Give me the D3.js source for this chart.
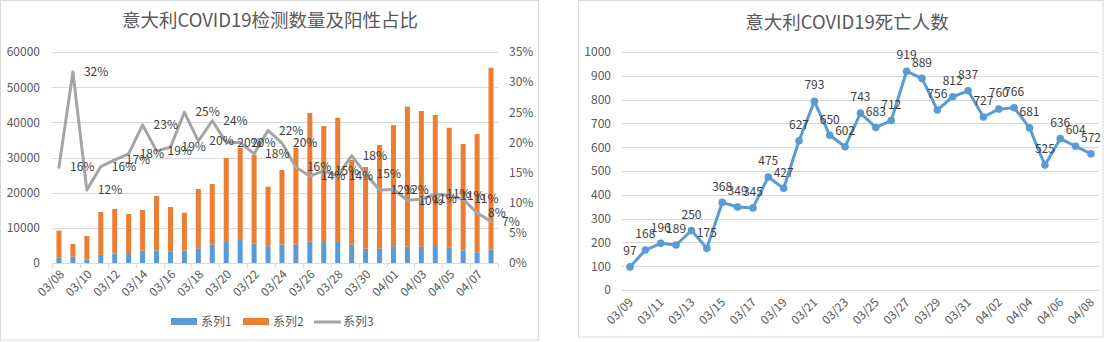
<!DOCTYPE html>
<html><head><meta charset="utf-8">
<script src="https://cdn.jsdelivr.net/npm/d3@7"></script>
<style>
body{margin:0;background:#fff;}
svg{display:block;}
text{font-family:"Noto Sans CJK SC","Noto Sans",sans-serif;}
</style>
</head><body>
<svg id="c" width="1115" height="342"></svg>
<script>
// ---------- data: left chart ----------
const testDates = ['03/08','03/09','03/10','03/11','03/12','03/13','03/14','03/15','03/16','03/17','03/18','03/19','03/20','03/21','03/22','03/23','03/24','03/25','03/26','03/27','03/28','03/29','03/30','03/31','04/01','04/02','04/03','04/04','04/05','04/06','04/07','04/08'];
const series1 = [1490,1800,980,2310,2650,2550,3500,3590,3230,3530,4210,5320,5990,6560,5560,4790,5250,5210,6150,5960,5970,5220,4050,4050,4780,4670,4590,4810,4320,3600,3040,3840];
const series2 = [7690,3600,6700,12190,12700,11380,11570,15460,12690,10770,16830,17140,23860,26140,25140,16910,21190,27590,36500,32990,35330,24080,23250,29500,34460,39770,38630,37270,34150,30240,33640,51690];
const series3 = [0.159,0.317,0.121,0.160,0.171,0.181,0.229,0.186,0.192,0.250,0.202,0.236,0.200,0.200,0.181,0.220,0.199,0.159,0.144,0.153,0.144,0.178,0.148,0.121,0.122,0.104,0.106,0.114,0.112,0.106,0.083,0.069];
const countTicks = [0,10000,20000,30000,40000,50000,60000];
const rateTicks = [0,0.05,0.10,0.15,0.20,0.25,0.30,0.35];
const legendNames = ['系列1','系列2','系列3'];
const leftTitle = '意大利COVID19检测数量及阳性占比';

// ---------- data: right chart ----------
const deathDates = ['03/09','03/10','03/11','03/12','03/13','03/14','03/15','03/16','03/17','03/18','03/19','03/20','03/21','03/22','03/23','03/24','03/25','03/26','03/27','03/28','03/29','03/30','03/31','04/01','04/02','04/03','04/04','04/05','04/06','04/07','04/08'];
const deaths = [97,168,196,189,250,175,368,349,345,475,427,627,793,650,602,743,683,712,919,889,756,812,837,727,760,766,681,525,636,604,572];
const deathTicks = [0,100,200,300,400,500,600,700,800,900,1000];
const rightTitle = '意大利COVID19死亡人数';

const C = {blue:'#5B9BD5', orange:'#ED7D31', gray:'#A5A5A5', grid:'#D9D9D9', text:'#595959', label:'#404040'};
const svg = d3.select('#c');

// ================= LEFT CHART =================
const L = svg.append('g');
L.append('rect').attr('x',0.5).attr('y',0.5).attr('width',538).attr('height',339.5)
  .attr('fill','#fff').attr('stroke',C.grid);
L.append('text').attr('x',270).attr('y',27).attr('text-anchor','middle')
  .attr('font-size',18.5).attr('fill',C.text).text(leftTitle);

const xL = d3.scaleBand().domain(testDates).range([52,498]).paddingInner(0.64).paddingOuter(0.32);
const yL = d3.scaleLinear().domain([0,60000]).range([263,52]);
const yR = d3.scaleLinear().domain([0,0.35]).range([263,52]);

// gridlines
L.append('g').selectAll('line').data(countTicks.filter(d=>d>0)).join('line')
  .attr('x1',52).attr('x2',498).attr('y1',d=>Math.round(yL(d))+0.5).attr('y2',d=>Math.round(yL(d))+0.5)
  .attr('stroke',C.grid);
// left axis labels
const axL = L.append('g').attr('transform','translate(46,0)')
  .call(d3.axisLeft(yL).tickValues(countTicks).tickSize(0).tickPadding(6).tickFormat(d3.format('d')));
axL.select('.domain').remove();
axL.selectAll('text').attr('font-size',12).attr('fill',C.text).attr('font-family','"Noto Sans CJK SC",sans-serif');
// right axis labels
const axR = L.append('g').attr('transform','translate(503,0)')
  .call(d3.axisRight(yR).tickValues(rateTicks).tickSize(0).tickPadding(6).tickFormat(d3.format('.0%')));
axR.select('.domain').remove();
axR.selectAll('text').attr('font-size',12).attr('fill',C.text).attr('font-family','"Noto Sans CJK SC",sans-serif');

// bars (stacked)
const bw = xL.bandwidth();
L.append('g').selectAll('rect').data(testDates).join('rect')
  .attr('x',d=>xL(d)).attr('width',bw)
  .attr('y',(d,i)=>yL(series1[i])).attr('height',(d,i)=>yL(0)-yL(series1[i]))
  .attr('fill',C.blue);
L.append('g').selectAll('rect').data(testDates).join('rect')
  .attr('x',d=>xL(d)).attr('width',bw)
  .attr('y',(d,i)=>yL(series1[i]+series2[i])).attr('height',(d,i)=>yL(series1[i])-yL(series1[i]+series2[i]))
  .attr('fill',C.orange);

// x axis line + ticks
const step = xL.step();
L.append('line').attr('x1',52).attr('x2',498).attr('y1',263.5).attr('y2',263.5).attr('stroke',C.grid);
const tickIdx = d3.range(0, testDates.length+1, 2);
L.append('g').selectAll('line').data(tickIdx).join('line')
  .attr('x1',i=>Math.round(52+i*step)+0.5).attr('x2',i=>Math.round(52+i*step)+0.5)
  .attr('y1',263).attr('y2',268).attr('stroke',C.grid);
L.append('g').selectAll('text').data(testDates.filter((d,i)=>i%2===0)).join('text')
  .attr('transform',d=>`translate(${xL(d)+bw/2+3},${272}) rotate(-45)`)
  .attr('text-anchor','end').attr('dy','0.35em')
  .attr('font-size',12).attr('fill',C.text).text(d=>d);

// rate line
const cx = d=>xL(d)+bw/2;
L.append('path').datum(testDates)
  .attr('d',d3.line().x(d=>cx(d)).y((d,i)=>yR(series3[i])))
  .attr('fill','none').attr('stroke',C.gray).attr('stroke-width',3).attr('stroke-linejoin','round').attr('stroke-linecap','round');
L.append('g').selectAll('text').data(testDates).join('text')
  .attr('x',d=>cx(d)+11).attr('y',(d,i)=>yR(series3[i])).attr('dy','0.35em')
  .attr('font-size',12).attr('fill',C.label)
  .text((d,i)=>Math.round(series3[i]*100)+'%');

// legend
const lg = L.append('g');
lg.append('rect').attr('x',171).attr('y',318).attr('width',26).attr('height',7).attr('fill',C.blue);
lg.append('text').attr('x',201).attr('y',322).attr('dy','0.35em').attr('font-size',12).attr('fill',C.text).text(legendNames[0]);
lg.append('rect').attr('x',243).attr('y',318).attr('width',26).attr('height',7).attr('fill',C.orange);
lg.append('text').attr('x',273).attr('y',322).attr('dy','0.35em').attr('font-size',12).attr('fill',C.text).text(legendNames[1]);
lg.append('line').attr('x1',314).attr('x2',341).attr('y1',322).attr('y2',322).attr('stroke',C.gray).attr('stroke-width',3);
lg.append('text').attr('x',343).attr('y',322).attr('dy','0.35em').attr('font-size',12).attr('fill',C.text).text(legendNames[2]);

// ================= RIGHT CHART =================
const R = svg.append('g');
R.append('rect').attr('x',578.5).attr('y',0.5).attr('width',524.5).attr('height',336.5)
  .attr('fill','#fff').attr('stroke',C.grid);
R.append('text').attr('x',847).attr('y',29).attr('text-anchor','middle')
  .attr('font-size',18.5).attr('fill',C.text).text(rightTitle);

const xD = d3.scalePoint().domain(deathDates).range([630,1091]);
const yD = d3.scaleLinear().domain([0,1000]).range([290,52]);

R.append('g').selectAll('line').data(deathTicks).join('line')
  .attr('x1',622).attr('x2',1099).attr('y1',d=>Math.round(yD(d))+0.5).attr('y2',d=>Math.round(yD(d))+0.5)
  .attr('stroke',C.grid);
const axD = R.append('g').attr('transform','translate(617,0)')
  .call(d3.axisLeft(yD).tickValues(deathTicks).tickSize(0).tickPadding(6).tickFormat(d3.format('d')));
axD.select('.domain').remove();
axD.selectAll('text').attr('font-size',12).attr('fill',C.text).attr('font-family','"Noto Sans CJK SC",sans-serif');

R.append('g').selectAll('text').data(deathDates.filter((d,i)=>i%2===0)).join('text')
  .attr('transform',d=>`translate(${xD(d)+1},${300}) rotate(-45)`)
  .attr('text-anchor','end').attr('dy','0.35em')
  .attr('font-size',12).attr('fill',C.text).text(d=>d);

R.append('path').datum(deathDates)
  .attr('d',d3.line().x(d=>xD(d)).y((d,i)=>yD(deaths[i])))
  .attr('fill','none').attr('stroke',C.blue).attr('stroke-width',3).attr('stroke-linejoin','round');
R.append('g').selectAll('circle').data(deathDates).join('circle')
  .attr('cx',d=>xD(d)).attr('cy',(d,i)=>yD(deaths[i])).attr('r',3.8).attr('fill',C.blue);
R.append('g').selectAll('text').data(deathDates).join('text')
  .attr('x',d=>xD(d)).attr('y',(d,i)=>yD(deaths[i])-16).attr('dy','0.35em').attr('text-anchor','middle')
  .attr('font-size',12).attr('fill',C.label).text((d,i)=>deaths[i]);
</script>
</body></html>
